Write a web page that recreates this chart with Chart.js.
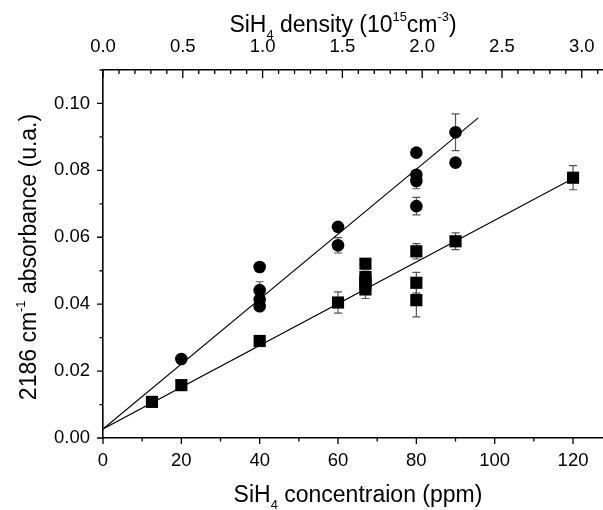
<!DOCTYPE html>
<html lang="en">
<head>
    <meta charset="UTF-8">
    <title>SiH4 absorbance vs concentration</title>
    <script src="https://cdn.jsdelivr.net/npm/chart.js@4.4.0/dist/chart.umd.min.js"></script>
    <style>
        body {
            margin: 0;
            background-color: #FFFFFF;
        }
    </style>
</head>
<body>
    <canvas id="absChart" width="603" height="510"></canvas>

    <script>
        // --- data ---
        const circleX   = [20, 40, 40, 40, 40, 60, 60, 80, 80, 80, 80, 90, 90];
        const circleY   = [0.0236, 0.0511, 0.0442, 0.0414, 0.0394, 0.0631, 0.0576, 0.0853, 0.0787, 0.0768, 0.0693, 0.0914, 0.0823];
        const circleErr = [0, 0, 0.0025, 0, 0, 0, 0.0023, 0, 0, 0.0023, 0.0026, 0.0055, 0];

        const squareX   = [12.5, 20, 40, 60, 67, 67, 67, 67, 67, 80, 80, 80, 90, 120];
        const squareY   = [0.0108, 0.0158, 0.0290, 0.0405, 0.0521, 0.0481, 0.0470, 0.0458, 0.0444, 0.0558, 0.0464, 0.0412, 0.0588, 0.0778];
        const squareErr = [0, 0, 0, 0.0032, 0, 0, 0, 0.0041, 0, 0.0023, 0.0031, 0.0050, 0.0025, 0.0036];

        // linear fits (end points)
        const fitCircleX = [0, 95.8];
        const fitCircleY = [0.0027, 0.0957];
        const fitSquareX = [0, 120];
        const fitSquareY = [0.0027, 0.0776];

        // tick labels
        const xTickValues   = [0, 20, 40, 60, 80, 100, 120];
        const topTickValues = [0.0, 0.5, 1.0, 1.5, 2.0, 2.5, 3.0];
        const yTickValues   = [0.00, 0.02, 0.04, 0.06, 0.08, 0.10];

        // axis titles (text, '' | 'sub' | 'sup')
        const xTitle   = [['SiH', ''], ['4', 'sub'], [' concentraion (ppm)', '']];
        const topTitle = [['SiH', ''], ['4', 'sub'], [' density (10', ''], ['15', 'sup'], ['cm', ''], ['-3', 'sup'], [')', '']];
        const yTitle   = [['2186 cm', ''], ['-1', 'sup'], [' absorbance (u.a.)', '']];

        const FONT = '"Liberation Sans", Arial, sans-serif';
        const xMax = 127.65;
        const topMax = 3.133;
        const yMax = 0.11;

        const toPts = (xs, ys) => xs.map((x, i) => ({ x: x, y: ys[i] }));

        function richText(ctx, parts, x, y, size) {
            const small = size * 0.56;
            let w = 0;
            parts.forEach(([t, k]) => {
                ctx.font = (k ? small : size) + 'px ' + FONT;
                w += ctx.measureText(t).width;
            });
            let cx = x - w / 2;
            parts.forEach(([t, k]) => {
                ctx.font = (k ? small : size) + 'px ' + FONT;
                const dy = k === 'sub' ? size * 0.3 : (k === 'sup' ? -size * 0.5 : 0);
                ctx.fillText(t, cx, y + dy);
                cx += ctx.measureText(t).width;
            });
        }

        // keep the plot running to the right edge like the original
        const noPad = (s) => { s.paddingLeft = 0; s.paddingRight = 0; };

        const decor = {
            id: 'decor',
            beforeDatasetsDraw(chart) {
                const ctx = chart.ctx;
                const xs = chart.scales.x, ys = chart.scales.y;
                ctx.save();
                ctx.strokeStyle = '#555555';
                ctx.lineWidth = 1.2;
                const bars = (X, Y, E) => X.forEach((xv, i) => {
                    if (!E[i]) return;
                    const px = xs.getPixelForValue(xv);
                    const y1 = ys.getPixelForValue(Y[i] + E[i]);
                    const y2 = ys.getPixelForValue(Y[i] - E[i]);
                    ctx.beginPath();
                    ctx.moveTo(px, y1); ctx.lineTo(px, y2);
                    ctx.moveTo(px - 4, y1); ctx.lineTo(px + 4, y1);
                    ctx.moveTo(px - 4, y2); ctx.lineTo(px + 4, y2);
                    ctx.stroke();
                });
                bars(circleX, circleY, circleErr);
                bars(squareX, squareY, squareErr);
                ctx.restore();
            },
            afterDraw(chart) {
                const ctx = chart.ctx;
                const a = chart.chartArea;
                const xs = chart.scales.x, x2 = chart.scales.x2, ys = chart.scales.y;
                ctx.save();
                ctx.strokeStyle = '#000000';
                ctx.lineWidth = 1.3;
                ctx.beginPath();
                // bottom axis, outward
                for (let v = 0; v <= xMax; v += 10) {
                    const px = xs.getPixelForValue(v);
                    const len = (v % 20 === 0) ? 6 : 3.5;
                    ctx.moveTo(px, a.bottom); ctx.lineTo(px, a.bottom + len);
                }
                // top axis, inward
                for (let i = 0; i * 0.1 <= topMax; i++) {
                    const px = x2.getPixelForValue(i * 0.1);
                    const len = (i % 5 === 0) ? 8 : 4;
                    ctx.moveTo(px, a.top); ctx.lineTo(px, a.top + len);
                }
                // left axis, outward
                for (let i = 0; i * 0.01 <= yMax + 1e-9; i++) {
                    const py = ys.getPixelForValue(i * 0.01);
                    const len = (i % 2 === 0) ? 6 : 3.5;
                    ctx.moveTo(a.left, py); ctx.lineTo(a.left - len, py);
                }
                ctx.stroke();

                ctx.fillStyle = '#000000';
                ctx.textBaseline = 'alphabetic';
                ctx.textAlign = 'left';
                richText(ctx, xTitle, 358, 502, 23);
                richText(ctx, topTitle, 343, 32, 23);
                ctx.translate(36, 257);
                ctx.rotate(-Math.PI / 2);
                richText(ctx, yTitle, 0, 0, 23);
                ctx.restore();
            }
        };

        const tickFont = { family: FONT, size: 18.5 };

        const config = {
            type: 'scatter',
            data: {
                datasets: [
                    {
                        label: 'circles',
                        data: toPts(circleX, circleY),
                        pointStyle: 'circle',
                        pointRadius: 6.3,
                        backgroundColor: '#000000',
                        borderWidth: 0
                    },
                    {
                        label: 'squares',
                        data: toPts(squareX, squareY),
                        pointStyle: 'rect',
                        pointRadius: 8.6,
                        backgroundColor: '#000000',
                        borderWidth: 0
                    },
                    {
                        label: 'fit circles',
                        data: toPts(fitCircleX, fitCircleY),
                        showLine: true,
                        pointRadius: 0,
                        borderColor: '#000000',
                        borderWidth: 1.1
                    },
                    {
                        label: 'fit squares',
                        data: toPts(fitSquareX, fitSquareY),
                        showLine: true,
                        pointRadius: 0,
                        borderColor: '#000000',
                        borderWidth: 1.1
                    }
                ]
            },
            options: {
                responsive: false,
                animation: false,
                layout: { padding: 0, autoPadding: false },
                plugins: {
                    legend: { display: false },
                    tooltip: { enabled: false }
                },
                scales: {
                    x: {
                        type: 'linear',
                        position: 'bottom',
                        min: 0,
                        max: xMax,
                        afterBuildTicks: (s) => { s.ticks = xTickValues.map(v => ({ value: v })); },
                        afterFit: (s) => { s.height = 72; noPad(s); },
                        grid: { display: false, drawTicks: false },
                        border: { display: true, color: '#000000', width: 1.6 },
                        ticks: {
                            color: '#000000',
                            font: tickFont,
                            padding: 12,
                            maxRotation: 0,
                            autoSkip: false,
                            callback: (v) => String(v)
                        }
                    },
                    x2: {
                        type: 'linear',
                        position: 'top',
                        min: 0,
                        max: topMax,
                        afterBuildTicks: (s) => { s.ticks = topTickValues.map(v => ({ value: v })); },
                        afterFit: (s) => { s.height = 70; noPad(s); },
                        grid: { display: false, drawTicks: false },
                        border: { display: true, color: '#000000', width: 1.6 },
                        ticks: {
                            color: '#000000',
                            font: tickFont,
                            padding: 12,
                            maxRotation: 0,
                            autoSkip: false,
                            callback: (v) => Number(v).toFixed(1)
                        }
                    },
                    y: {
                        type: 'linear',
                        position: 'left',
                        min: 0,
                        max: yMax,
                        afterBuildTicks: (s) => { s.ticks = yTickValues.map(v => ({ value: v })); },
                        afterFit: (s) => { s.width = 103; },
                        grid: { display: false, drawTicks: false },
                        border: { display: true, color: '#000000', width: 1.6 },
                        ticks: {
                            color: '#000000',
                            font: tickFont,
                            padding: 13,
                            autoSkip: false,
                            callback: (v) => Number(v).toFixed(2)
                        }
                    }
                }
            },
            plugins: [decor]
        };

        const chart = new Chart(document.getElementById('absChart').getContext('2d'), config);
    </script>
</body>
</html>
